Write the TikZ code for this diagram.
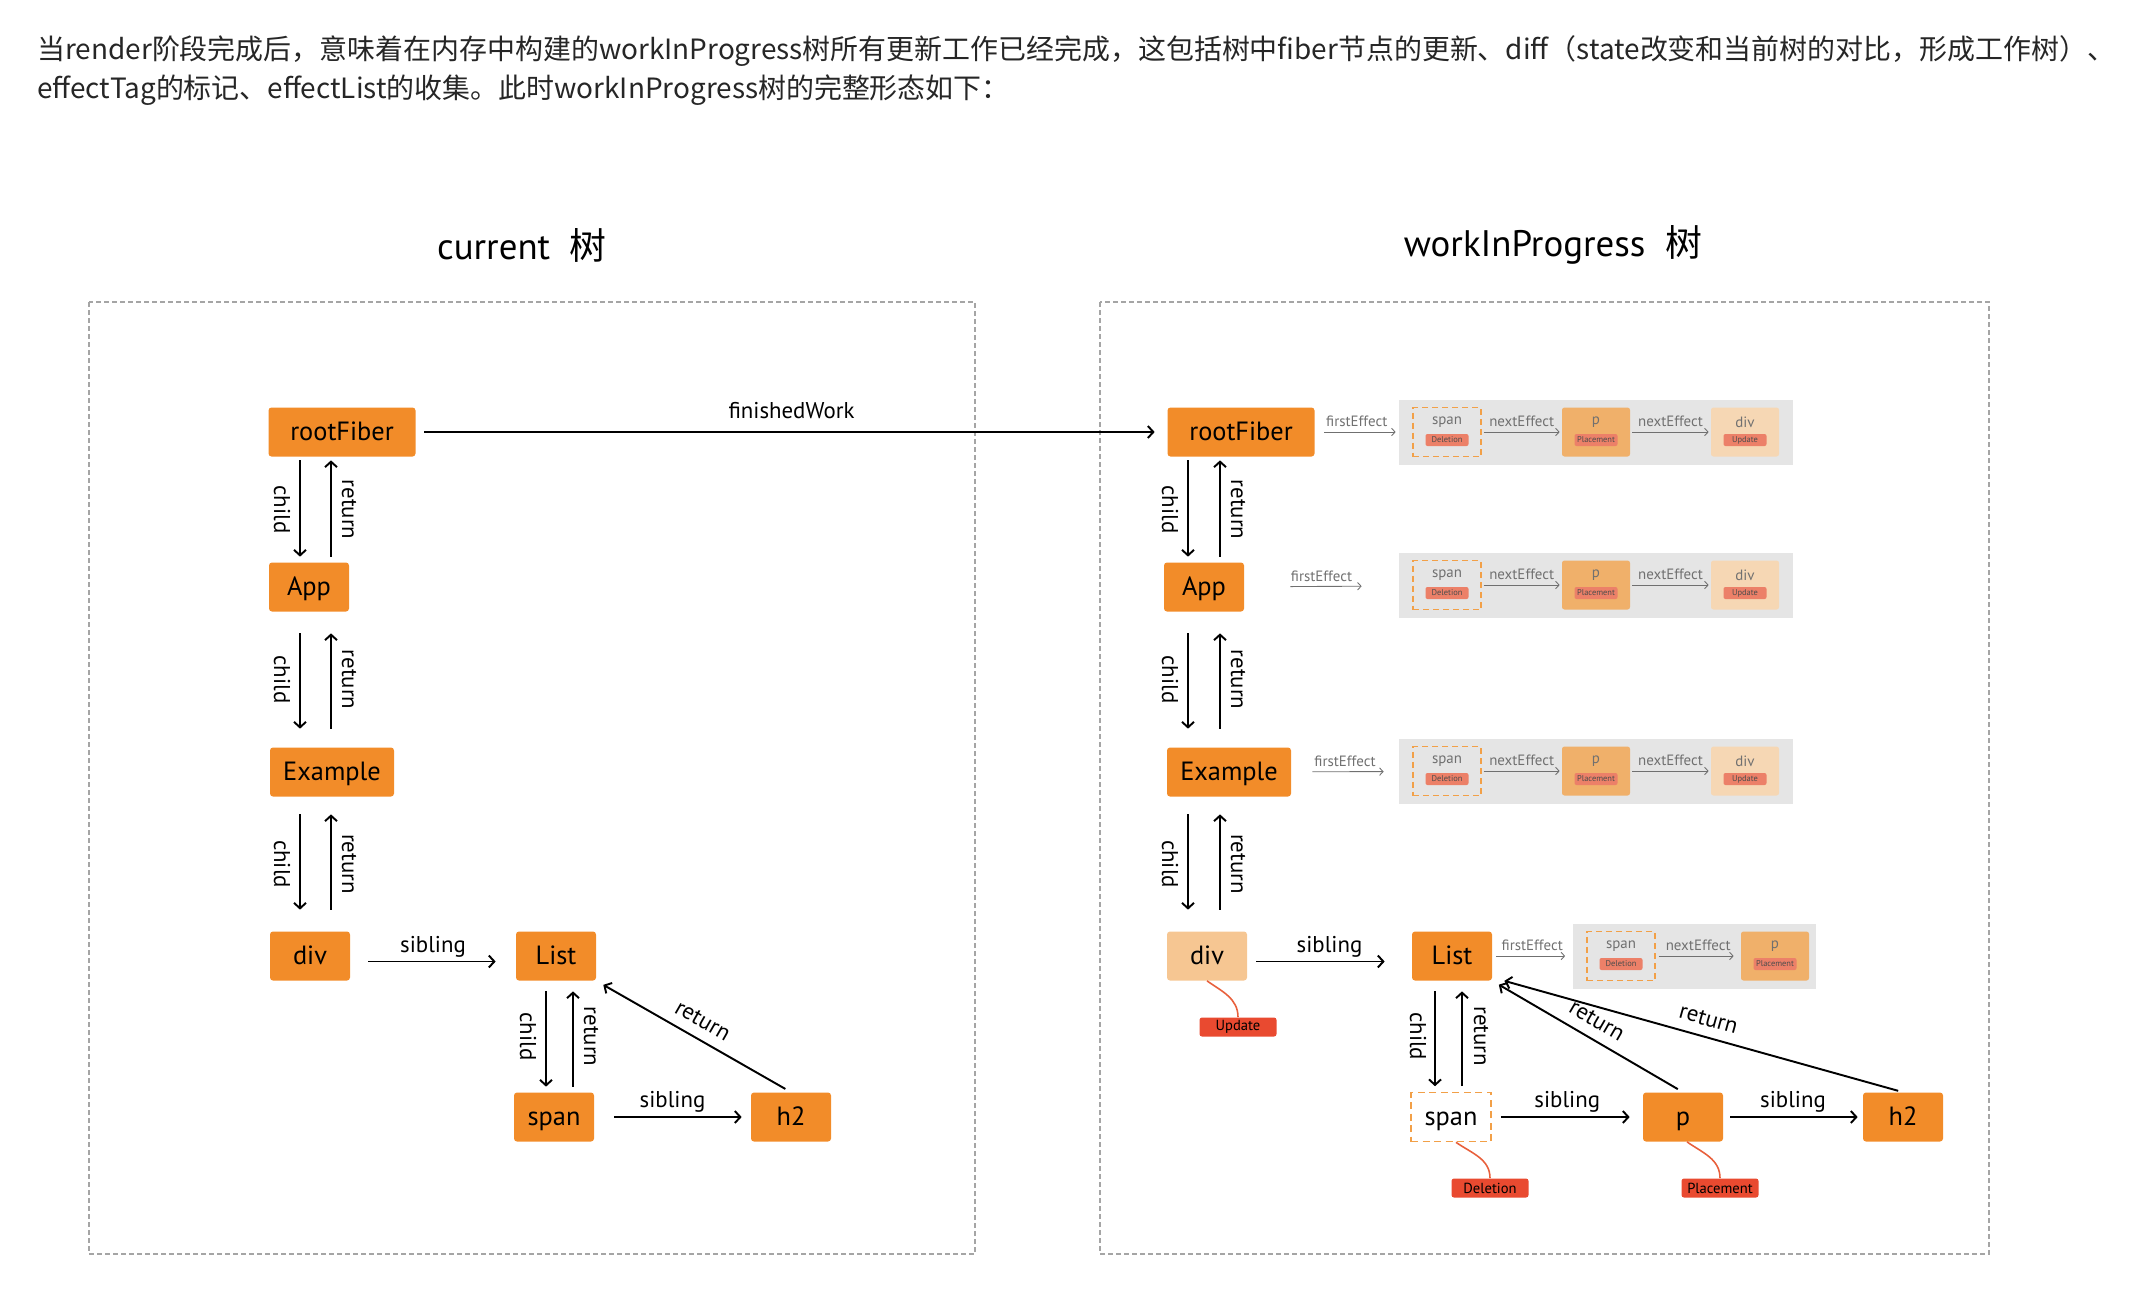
\documentclass[tikz,border=0pt]{standalone}
\usepackage{fontspec}
\setmainfont{PT Sans}
\newfontfamily\cjk{Noto Sans CJK SC}
\usetikzlibrary{arrows.meta}

\definecolor{fibOrange}{RGB}{242,140,41}
\definecolor{divPale}{RGB}{246,198,146}
\definecolor{spanDash}{RGB}{242,160,72}
\definecolor{tagRed}{RGB}{233,74,48}
\definecolor{curveRed}{RGB}{232,96,60}
\definecolor{effGray}{RGB}{229,229,229}
\definecolor{effP}{RGB}{240,176,106}
\definecolor{effDiv}{RGB}{246,215,180}
\definecolor{effTag}{RGB}{236,128,104}
\definecolor{effTxt}{RGB}{112,112,112}
\definecolor{frameGray}{RGB}{165,165,165}

\begin{document}
\begin{tikzpicture}[x=0.2mm,y=-0.2mm,
			fib/.style={fill=fibOrange,rounded corners=0.6mm,minimum width=16mm,minimum height=9.8mm,
				inner sep=0pt,text height=0.98em,text depth=0.06em,font=\fontsize{15}{16}\selectfont},
			ar/.style={-{Straight Barb[length=1.1mm,width=2.4mm]},line width=1.1pt},
			lb/.style={font=\fontsize{13}{14}\selectfont},
			sib/.style={lb,inner sep=1pt,above=0.3mm},
			frame/.style={draw=frameGray,line width=0.7pt,dash pattern=on 1mm off 0.6mm},
			tg/.style={fill=tagRed,rounded corners=0.5mm,minimum width=15.4mm,minimum height=3.8mm,
				inner sep=0pt,font=\fontsize{8.3}{9}\selectfont},
			tgline/.style={draw=curveRed,line width=0.9pt},
			gbox/.style={fill=effGray,minimum height=13mm,inner sep=0pt},
			ebox/.style={rounded corners=0.5mm,minimum width=13.6mm,minimum height=9.8mm,inner sep=0pt},
			espan/.style={ebox,draw=spanDash,line width=0.8pt,dash pattern=on 1.2mm off 0.8mm,rounded corners=0pt},
			etx/.style={text=effTxt,inner sep=0pt,font=\fontsize{8.5}{9}\selectfont},
			etag/.style={fill=effTag,rounded corners=0.4mm,minimum width=8.6mm,minimum height=2.4mm,
				inner sep=0pt,text=black!70,font=\fontsize{4.8}{5}\selectfont},
			ear/.style={-{Straight Barb[length=0.7mm,width=1.5mm]},draw=effTxt,line width=0.5pt},
			hd/.style={anchor=west,inner sep=0pt,text=black!85,font=\cjk\fontsize{15.9}{17}\selectfont}]
			\useasboundingbox (0,0) rectangle (2136,1310);
			% text above the picture
			\node[hd] (hd1) at (37,51) {当render阶段完成后，意味着在内存中构建的workInProgress树所有更新工作已经完成，这包括树中fiber节点的更新、diff（state改变和当前树的对比，形成工作树）、};
			\node[hd] (hd2) at (37,90) {effectTag的标记、effectList的收集。此时workInProgress树的完整形态如下：};
			\node[font=\fontsize{21}{24}\selectfont] (t1) at (522,245) {current\ \ {\cjk 树}};
			\node[font=\fontsize{21}{24}\selectfont] (t2) at (1553,245) {workInProgress\ \ {\cjk 树}};
			\draw[frame] (89,302) rectangle (975,1254);
			\draw[frame] (1100,302) rectangle (1989,1254);
			% current tree
			\node[fib,minimum width=29.4mm] (lrf) at (342,432) {rootFiber};
			\node[fib] (lapp) at (309,587) {App};
			\node[fib,minimum width=24.8mm] (lex) at (332,772) {Example};
			\node[fib] (ldiv) at (310,956) {div};
			\node[fib] (llist) at (556,956) {List};
			\node[fib] (lspan) at (554,1117) {span};
			\node[fib] (lh2) at (791,1117) {h2};
			\coordinate (lcx) at (300,0);
			\coordinate (lrx) at (331,0);
			\coordinate (lcx2) at (546,0);
			\coordinate (lrx2) at (573,0);
			\draw[ar,shorten <=0.7mm,shorten >=1.1mm] (lrf.south -| lcx) -- node[xshift=-3.6mm,rotate=-90,lb] {child} (lapp.north -| lcx);
			\draw[ar,shorten <=1.1mm,shorten >=0.7mm] (lapp.north -| lrx) -- node[xshift=3.6mm,rotate=-90,lb] {return} (lrf.south -| lrx);
			\draw[ar,shorten <=4.3mm,shorten >=3.7mm] (lapp.south -| lcx) -- node[xshift=-3.6mm,rotate=-90,lb] {child} (lex.north -| lcx);
			\draw[ar,shorten <=3.7mm,shorten >=4.3mm] (lex.north -| lrx) -- node[xshift=3.6mm,rotate=-90,lb] {return} (lapp.south -| lrx);
			\draw[ar,shorten <=3.5mm,shorten >=4.3mm] (lex.south -| lcx) -- node[xshift=-3.6mm,rotate=-90,lb] {child} (ldiv.north -| lcx);
			\draw[ar,shorten <=4.3mm,shorten >=3.5mm] (ldiv.north -| lrx) -- node[xshift=3.6mm,rotate=-90,lb] {return} (lex.south -| lrx);
			\draw[ar,shorten <=2.1mm,shorten >=1.1mm] (llist.south -| lcx2) -- node[xshift=-3.6mm,rotate=-90,lb] {child} (lspan.north -| lcx2);
			\draw[ar,shorten <=1.1mm,shorten >=2.1mm] (lspan.north -| lrx2) -- node[xshift=3.6mm,rotate=-90,lb] {return} (llist.south -| lrx2);
			\draw[ar,shorten <=3.6mm,shorten >=4mm] ([yshift=-1.1mm]ldiv.east) -- node[sib] {sibling} ([yshift=-1.1mm]llist.west);
			\draw[ar,shorten <=4mm,shorten >=1.8mm] (lspan) -- node[sib] {sibling} (lh2);
			\draw[ar,shorten <=1.3mm,shorten >=1.6mm] (lh2.north) -- node[sloped,above=0.8mm,lb] {return} (llist.south east);
			% workInProgress tree
			\node[fib,minimum width=29.4mm] (rrf) at (1241,432) {rootFiber};
			\node[fib] (rapp) at (1204,587) {App};
			\node[fib,minimum width=24.8mm] (rex) at (1229,772) {Example};
			\node[fib,fill=divPale] (rdiv) at (1207,956) {div};
			\node[fib] (rlist) at (1452,956) {List};
			\node[fib,fill=white,draw=spanDash,line width=0.9pt,dash pattern=on 1.4mm off 0.9mm,rounded corners=0pt] (rspan) at (1451,1117) {span};
			\node[fib] (rp) at (1683,1117) {p};
			\node[fib] (rh2) at (1903,1117) {h2};
			\draw[ar,shorten <=1.7mm,shorten >=2.5mm] (lrf) -- node[above=1.35mm,lb] {finishedWork} (rrf);
			\coordinate (rcx) at (1188,0);
			\coordinate (rrx) at (1220,0);
			\coordinate (rcx2) at (1435,0);
			\coordinate (rrx2) at (1462,0);
			\draw[ar,shorten <=0.7mm,shorten >=1.1mm] (rrf.south -| rcx) -- node[xshift=-3.6mm,rotate=-90,lb] {child} (rapp.north -| rcx);
			\draw[ar,shorten <=1.1mm,shorten >=0.7mm] (rapp.north -| rrx) -- node[xshift=3.6mm,rotate=-90,lb] {return} (rrf.south -| rrx);
			\draw[ar,shorten <=4.3mm,shorten >=3.7mm] (rapp.south -| rcx) -- node[xshift=-3.6mm,rotate=-90,lb] {child} (rex.north -| rcx);
			\draw[ar,shorten <=3.7mm,shorten >=4.3mm] (rex.north -| rrx) -- node[xshift=3.6mm,rotate=-90,lb] {return} (rapp.south -| rrx);
			\draw[ar,shorten <=3.5mm,shorten >=4.3mm] (rex.south -| rcx) -- node[xshift=-3.6mm,rotate=-90,lb] {child} (rdiv.north -| rcx);
			\draw[ar,shorten <=4.3mm,shorten >=3.5mm] (rdiv.north -| rrx) -- node[xshift=3.6mm,rotate=-90,lb] {return} (rex.south -| rrx);
			\draw[ar,shorten <=2.1mm,shorten >=1.1mm] (rlist.south -| rcx2) -- node[xshift=-3.4mm,rotate=-90,lb] {child} (rspan.north -| rcx2);
			\draw[ar,shorten <=1.1mm,shorten >=2.1mm] (rspan.north -| rrx2) -- node[xshift=3.8mm,rotate=-90,lb] {return} (rlist.south -| rrx2);
			\draw[ar,shorten <=1.8mm,shorten >=5.4mm] ([yshift=-1.1mm]rdiv.east) -- node[sib] {sibling} ([yshift=-1.1mm]rlist.west);
			\draw[ar,shorten <=1.8mm,shorten >=2.6mm] (rspan) -- node[sib] {sibling} (rp);
			\draw[ar,shorten <=1.4mm,shorten >=1mm] (rp) -- node[sib] {sibling} (rh2);
			\draw[ar,shorten <=1.2mm,shorten >=1.5mm] (rp.north) -- node[sloped,above=0.8mm,lb] {return} (rlist.south east);
			\draw[ar,shorten <=1mm] (rh2.north) -- node[sloped,above=0.8mm,lb] {return} ([xshift=2.4mm]rlist.south east);
			% effect tags
			\node[tg] (upd) at (1238,1027) {Update};
			\node[tg] (del) at (1490,1188) {Deletion};
			\node[tg] (plc) at (1720,1188) {Placement};
			\draw[tgline] (rdiv.south) to[out=-35,in=90] (upd.north);
			\draw[tgline] ([xshift=1mm]rspan.south) to[out=-35,in=90] (del.north);
			\draw[tgline] ([xshift=0.8mm]rp.south) to[out=-35,in=90] (plc.north);
			% effect lists
			\node[gbox,minimum width=78.8mm] (g1) at (1596,432) {};
			\node[espan] (s1) at (1447,432) {};
			\node[etx] (s1n) at ([yshift=2mm]s1.center) {span};
			\node[etag] (s1t) at ([yshift=-1.6mm]s1.center) {Deletion};
			\node[ebox,fill=effP] (p1) at (1596,432) {};
			\node[etx] (p1n) at ([yshift=2mm]p1.center) {p};
			\node[etag] (p1t) at ([yshift=-1.6mm]p1.center) {Placement};
			\node[ebox,fill=effDiv] (d1) at (1745,432) {};
			\node[etx] (d1n) at ([yshift=2mm]d1.center) {div};
			\node[etag] (d1t) at ([yshift=-1.6mm]d1.center) {Update};
			\draw[ear,shorten <=0.4mm,shorten >=0.4mm] (s1) -- node[etx,above=0.9mm] {nextEffect} (p1);
			\draw[ear,shorten <=0.4mm,shorten >=0.4mm] (p1) -- node[etx,above=0.9mm] {nextEffect} (d1);
			\draw[ear,shorten <=1.9mm,shorten >=0.6mm] (rrf) -- node[etx,above=0.9mm] {firstEffect} (g1);
			\node[gbox,minimum width=78.8mm] (g2) at (1596,585) {};
			\node[espan] (s2) at (1447,585) {};
			\node[etx] (s2n) at ([yshift=2mm]s2.center) {span};
			\node[etag] (s2t) at ([yshift=-1.6mm]s2.center) {Deletion};
			\node[ebox,fill=effP] (p2) at (1596,585) {};
			\node[etx] (p2n) at ([yshift=2mm]p2.center) {p};
			\node[etag] (p2t) at ([yshift=-1.6mm]p2.center) {Placement};
			\node[ebox,fill=effDiv] (d2) at (1745,585) {};
			\node[etx] (d2n) at ([yshift=2mm]d2.center) {div};
			\node[etag] (d2t) at ([yshift=-1.6mm]d2.center) {Update};
			\draw[ear,shorten <=0.4mm,shorten >=0.4mm] (s2) -- node[etx,above=0.9mm] {nextEffect} (p2);
			\draw[ear,shorten <=0.4mm,shorten >=0.4mm] (p2) -- node[etx,above=0.9mm] {nextEffect} (d2);
			\draw[ear,shorten <=9.2mm,shorten >=7.4mm] (rapp) -- node[etx,above=0.9mm] {firstEffect} (g2);
			\node[gbox,minimum width=78.8mm] (g3) at (1596,771) {};
			\node[espan] (s3) at (1447,771) {};
			\node[etx] (s3n) at ([yshift=2mm]s3.center) {span};
			\node[etag] (s3t) at ([yshift=-1.6mm]s3.center) {Deletion};
			\node[ebox,fill=effP] (p3) at (1596,771) {};
			\node[etx] (p3n) at ([yshift=2mm]p3.center) {p};
			\node[etag] (p3t) at ([yshift=-1.6mm]p3.center) {Placement};
			\node[ebox,fill=effDiv] (d3) at (1745,771) {};
			\node[etx] (d3n) at ([yshift=2mm]d3.center) {div};
			\node[etag] (d3t) at ([yshift=-1.6mm]d3.center) {Update};
			\draw[ear,shorten <=0.4mm,shorten >=0.4mm] (s3) -- node[etx,above=0.9mm] {nextEffect} (p3);
			\draw[ear,shorten <=0.4mm,shorten >=0.4mm] (p3) -- node[etx,above=0.9mm] {nextEffect} (d3);
			\draw[ear,shorten <=4.2mm,shorten >=3mm] (rex) -- node[etx,above=0.9mm] {firstEffect} (g3);
			\node[gbox,minimum width=48.6mm] (g4) at (1694,956) {};
			\node[espan] (s4) at (1621,956) {};
			\node[etx] (s4n) at ([yshift=2mm]s4.center) {span};
			\node[etag] (s4t) at ([yshift=-1.6mm]s4.center) {Deletion};
			\node[ebox,fill=effP] (p4) at (1775,956) {};
			\node[etx] (p4n) at ([yshift=2mm]p4.center) {p};
			\node[etag] (p4t) at ([yshift=-1.6mm]p4.center) {Placement};
			\draw[ear,shorten <=0.6mm,shorten >=1.4mm] (s4) -- node[etx,above=0.9mm] {nextEffect} (p4);
			\draw[ear,shorten <=0.8mm,shorten >=1.4mm] (rlist) -- node[etx,above=0.9mm] {firstEffect} (g4);
		\end{tikzpicture}
\end{document}
